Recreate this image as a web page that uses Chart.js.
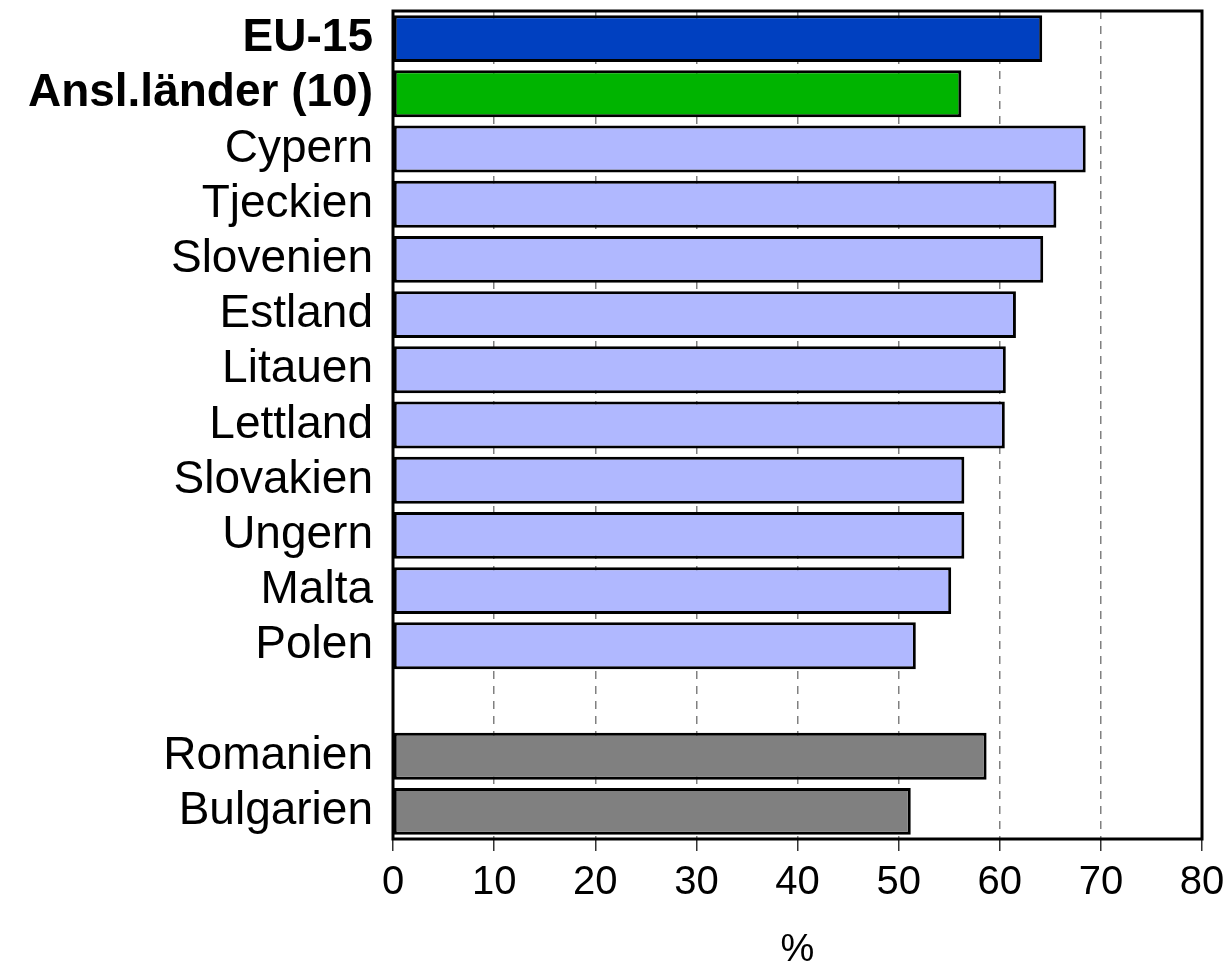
<!DOCTYPE html>
<html>
<head>
<meta charset="utf-8">
<script src="https://cdn.jsdelivr.net/npm/chart.js@4.4.1/dist/chart.umd.min.js"></script>
<style>
  html, body { margin: 0; padding: 0; background: #fff; }
  #wrap { width: 1231px; height: 966px; }
</style>
</head>
<body>
<div id="wrap"><canvas id="c" width="1231" height="966"></canvas></div>
<script>
// ---- data ----
const categories = ['EU-15', 'Ansl.länder (10)', 'Cypern', 'Tjeckien', 'Slovenien', 'Estland',
  'Litauen', 'Lettland', 'Slovakien', 'Ungern', 'Malta', 'Polen', '', 'Romanien', 'Bulgarien'];
const values = [64.2, 56.2, 68.5, 65.6, 64.3, 61.6, 60.6, 60.5, 56.5, 56.5, 55.2, 51.7, null, 58.7, 51.2];
const boldLabels = ['EU-15', 'Ansl.länder (10)'];
const xTicks = [0, 10, 20, 30, 40, 50, 60, 70, 80];
const axisTitle = '%';

// ---- styles ----
const barColors = ['#0040C0', '#00B400', '#B0B8FF', '#B0B8FF', '#B0B8FF', '#B0B8FF', '#B0B8FF',
  '#B0B8FF', '#B0B8FF', '#B0B8FF', '#B0B8FF', '#B0B8FF', '#FFFFFF', '#808080', '#808080'];
const FONT = "'Liberation Sans', Arial, Helvetica, sans-serif";

const frame = {
  id: 'frame',
  afterDatasetsDraw(chart) {
    const { ctx, chartArea: a } = chart;
    ctx.save();
    ctx.strokeStyle = '#000';
    ctx.lineWidth = 3;
    ctx.strokeRect(a.left, a.top, a.right - a.left, a.bottom - a.top);
    ctx.restore();
  }
};

new Chart(document.getElementById('c'), {
  type: 'bar',
  data: {
    labels: categories,
    datasets: [{
      data: values,
      backgroundColor: barColors,
      borderColor: '#000',
      borderWidth: 3,
      borderSkipped: false,
      categoryPercentage: 1.0,
      barPercentage: 0.85
    }]
  },
  options: {
    indexAxis: 'y',
    responsive: false,
    animation: false,
    devicePixelRatio: 1,
    layout: { padding: { top: 11, right: 29, left: 0, bottom: 0 } },
    plugins: { legend: { display: false }, tooltip: { enabled: false } },
    scales: {
      x: {
        type: 'linear',
        min: 0, max: 80,
        afterBuildTicks(scale) { scale.ticks = xTicks.map(v => ({ value: v })); },
        afterFit(scale) { scale.height = 127; scale.paddingLeft = 0; scale.paddingRight = 0; },
        grid: {
          color: ctx => (ctx.tick && (ctx.tick.value === 0 || ctx.tick.value === 80)) ? 'rgba(0,0,0,0)' : '#808080',
          lineWidth: 1.5,
          drawTicks: true,
          tickLength: 12,
          tickColor: '#333',
          tickWidth: 1.5,
          tickBorderDash: []
        },
        border: { display: false, dash: [8, 7] },
        ticks: {
          padding: 8,
          color: '#000',
          font: { family: FONT, size: 40 },
          maxRotation: 0,
          autoSkip: false
        },
        title: {
          display: true,
          text: axisTitle,
          color: '#000',
          font: { family: FONT, size: 38, lineHeight: 0.8 },
          padding: { top: 0, bottom: 0 }
        }
      },
      y: {
        afterFit(scale) { scale.width = 393; scale.paddingTop = 0; scale.paddingBottom = 0; },
        grid: { display: false, drawTicks: false },
        border: { display: false },
        ticks: {
          padding: 20,
          color: '#000',
          autoSkip: false,
          font: ctx => ({
            family: FONT,
            size: 46,
            weight: boldLabels.includes(categories[ctx.index]) ? 'bold' : 'normal'
          })
        }
      }
    }
  },
  plugins: [frame]
});
</script>
</body>
</html>
